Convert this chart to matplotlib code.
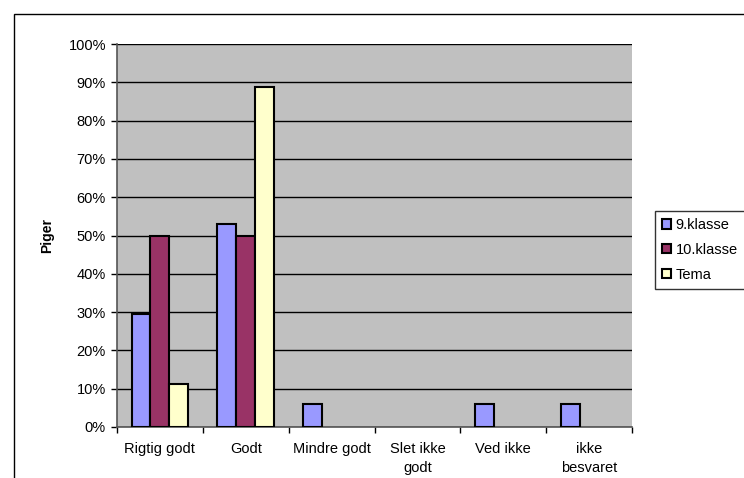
import numpy as np
import matplotlib.pyplot as plt
from matplotlib.patches import Rectangle
from matplotlib.ticker import FuncFormatter, FixedLocator

plt.rcParams['font.family'] = ['Liberation Sans', 'DejaVu Sans']

categories = ['Rigtig godt', 'Godt', 'Mindre godt', 'Slet ikke\ngodt', 'Ved ikke', 'ikke\nbesvaret']
klasse9 = [29.4, 52.9, 5.9, 0, 5.9, 5.9]
klasse10 = [50, 50, 0, 0, 0, 0]
tema = [11.1, 88.9, 0, 0, 0, 0]
series = [('9.klasse', klasse9, '#9999ff'),
          ('10.klasse', klasse10, '#993366'),
          ('Tema', tema, '#ffffcc')]

fig = plt.figure(figsize=(7.44, 4.78), dpi=100)
fig.patches.append(Rectangle((14 / 744, -0.05), 1.0, 1.05 - 14 / 478,
                             transform=fig.transFigure, fill=False,
                             edgecolor='black', linewidth=1))
ax = fig.add_axes([117 / 744, 1 - 427 / 478, 515 / 744, 383 / 478])
ax.set_facecolor('#c0c0c0')

x = np.arange(len(categories))
w = 0.22
for i, (name, vals, col) in enumerate(series):
    h = [v if v > 0 else np.nan for v in vals]
    ax.bar(x + (i - 1) * w, h, w, color=col, edgecolor='black',
           linewidth=1.5, label=name, zorder=3)

ax.set_xlim(-0.5, len(categories) - 0.5)
ax.set_ylim(0, 100)
ax.set_yticks(np.arange(0, 101, 10))
ax.yaxis.set_major_formatter(FuncFormatter(lambda v, p: f'{v:.0f}%'))
ax.yaxis.grid(True, color='black', linewidth=1)
ax.set_axisbelow(True)

ax.xaxis.set_major_locator(FixedLocator(np.arange(-0.5, len(categories), 1)))
ax.xaxis.set_major_formatter(FuncFormatter(lambda v, p: ''))
ax.xaxis.set_minor_locator(FixedLocator(x))
ax.set_xticklabels(categories, minor=True, linespacing=1.45)
ax.tick_params(axis='x', which='minor', length=0, pad=11, labelsize=10.5)
ax.tick_params(axis='x', which='major', length=4, width=1, direction='out')
ax.tick_params(axis='y', length=4, width=1, direction='out', labelsize=10.5, pad=4)

for s in ['top', 'right']:
    ax.spines[s].set_visible(False)
for s in ['left', 'bottom']:
    ax.spines[s].set_color('#555555')
    ax.spines[s].set_linewidth(1.2)

ax.set_ylabel('Piger', fontsize=10, fontweight='bold', labelpad=10)

leg = fig.legend(loc='center left', bbox_to_anchor=(655 / 744, 1 - 250 / 478),
                 frameon=True, fancybox=False, edgecolor='black', fontsize=10.5,
                 handlelength=0.6, handleheight=0.6, handletextpad=0.3,
                 borderpad=0.5, labelspacing=0.75, borderaxespad=0)
leg.get_frame().set_linewidth(1)

fig.savefig('out.png', dpi=100)
